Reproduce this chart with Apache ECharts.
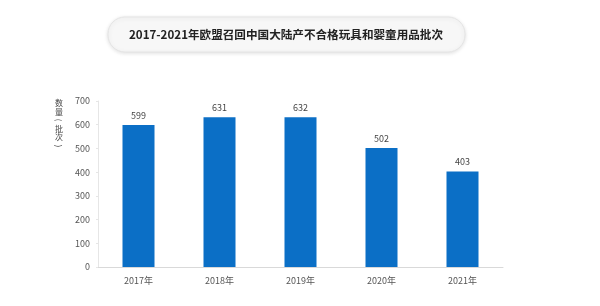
<!DOCTYPE html>
<html>
<head>
<meta charset="utf-8">
<script src="https://cdn.jsdelivr.net/npm/echarts@6/dist/echarts.min.js"></script>
<style>
    html, body { margin: 0; padding: 0; background: #fff; }
    #main { width: 600px; height: 306px; }
</style>
</head>
<body>
<div id="main"></div>
<script>
    var years = ['2017年', '2018年', '2019年', '2020年', '2021年'];
    var counts = [599, 631, 632, 502, 403];
    var yTicks = [0, 700, 100];
    var yName = ['数', '量', '(', '批', '次', ')'];

    // 纵向轴名称，括号旋转90度
    var nameItems = yName.map(function (ch, i) {
        var isParen = ch === '(' || ch === ')';
        return {
            type: 'text',
            x: 59,
            y: 103 + i * 8.6,
            rotation: isParen ? -Math.PI / 2 : 0,
            style: {
                text: ch,
                fill: '#444',
                font: '8px "Noto Sans CJK SC"',
                textAlign: 'center',
                textVerticalAlign: 'middle'
            }
        };
    });

    var myChart = echarts.init(document.getElementById('main'));
    myChart.setOption({
        textStyle: { fontFamily: 'Noto Sans CJK SC' },
        graphic: [
            {
                type: 'rect',
                shape: { x: 108, y: 17, width: 357, height: 35, r: 17 },
                style: {
                    fill: '#f7f7f7',
                    stroke: '#e4e4e4',
                    lineWidth: 1,
                    shadowBlur: 4,
                    shadowColor: 'rgba(0,0,0,0.12)',
                    shadowOffsetY: 1
                }
            },
            {
                type: 'text',
                x: 286, y: 35,
                style: {
                    text: '2017-2021年欧盟召回中国大陆产不合格玩具和婴童用品批次',
                    fill: '#222',
                    font: 'bold 11.6px "Noto Sans CJK SC"',
                    textAlign: 'center',
                    textVerticalAlign: 'middle'
                }
            }
        ].concat(nameItems),
        grid: {
            left: 98,
            right: 97,
            top: 101,
            bottom: 39
        },
        xAxis: {
            type: 'category',
            data: years,
            axisLine: { lineStyle: { color: '#d9d9d9' } },
            axisTick: { show: false },
            axisLabel: { color: '#555', fontSize: 9, margin: 9 }
        },
        yAxis: {
            type: 'value',
            min: yTicks[0],
            max: yTicks[1],
            interval: yTicks[2],
            axisLine: { show: true, lineStyle: { color: '#e6e6e6' } },
            axisTick: { show: true, length: 2, lineStyle: { color: '#e6e6e6' } },
            splitLine: { show: false },
            axisLabel: { color: '#555', fontSize: 9, margin: 8 }
        },
        series: [{
            type: 'bar',
            data: counts,
            barWidth: 32,
            itemStyle: { color: '#0b6fc6' },
            label: {
                show: true,
                position: 'top',
                color: '#444',
                fontSize: 9,
                distance: 5
            }
        }]
    });
</script>
</body>
</html>
